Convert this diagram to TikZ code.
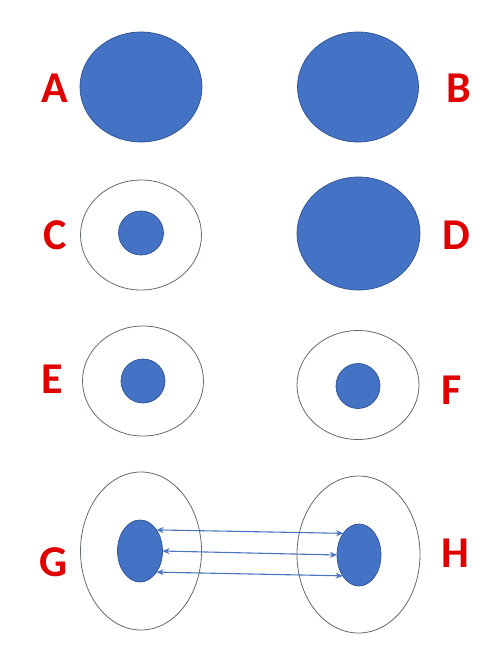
\documentclass[tikz,border=0pt]{standalone}
\usepackage{fontspec}
\setmainfont{Carlito}
\usetikzlibrary{shapes.geometric,arrows.meta}
\definecolor{fillblue}{HTML}{4472C4}
\definecolor{edgeblue}{HTML}{2F528F}
\definecolor{labred}{HTML}{E00000}
\definecolor{ringgrey}{HTML}{646A72}
\definecolor{linkblue}{HTML}{4A74C0}
\tikzset{
  disc/.style={ellipse,fill=fillblue,draw=edgeblue,line width=0.7pt,inner sep=0pt,outer sep=0pt},
  ring/.style={ellipse,draw=ringgrey,line width=0.8pt,inner sep=0pt,outer sep=0pt},
  lab/.style={text=labred,font=\fontsize{44}{44}\selectfont\bfseries,inner sep=0pt},
  link/.style={draw=linkblue,line width=1.1pt,{Stealth[length=7pt,width=6pt]}-{Stealth[length=7pt,width=6pt]}}
}
\begin{document}
\begin{tikzpicture}[x=1pt,y=-1pt]
\useasboundingbox[fill=white] (0,0) rectangle (500,662);
% A, B
\node[disc,minimum width=122,minimum height=110] (a) at (141,87) {};
\node[lab] (la) at (55,88) {A};
\node[disc,minimum width=121,minimum height=110] (b) at (358,87) {};
\node[lab] (lb) at (459,88) {B};
% C, D
\node[ring,minimum width=121,minimum height=110] (co) at (141,235) {};
\node[disc,minimum width=45,minimum height=44] (ci) at (141,233) {};
\node[lab] (lc) at (55,235) {C};
\node[disc,minimum width=123,minimum height=113] (d) at (358.5,233.5) {};
\node[lab] (ld) at (456,235) {D};
% E, F
\node[ring,minimum width=121,minimum height=110] (eo) at (143,381) {};
\node[disc,minimum width=44,minimum height=44] (ei) at (143,381) {};
\node[lab] (le) at (52,379) {E};
\node[ring,minimum width=122,minimum height=109] (fo) at (358,385) {};
\node[disc,minimum width=44,minimum height=45] (fi) at (358,386) {};
\node[lab] (lf) at (452,390) {F};
% G, H
\node[ring,minimum width=121,minimum height=158] (go) at (141,551) {};
\node[disc,minimum width=45,minimum height=62] (gi) at (140,551) {};
\node[lab] (lg) at (54,562) {G};
\node[ring,minimum width=123,minimum height=157] (ho) at (358.5,554.5) {};
\node[disc,minimum width=44,minimum height=62] (hi) at (359,555) {};
\node[lab] (lh) at (455,553) {H};
% links
\draw[link] (gi.52) -- (hi.126);
\draw[link] (gi.east) -- (hi.west);
\draw[link] (gi.-52) -- (hi.232);
\end{tikzpicture}
\end{document}
